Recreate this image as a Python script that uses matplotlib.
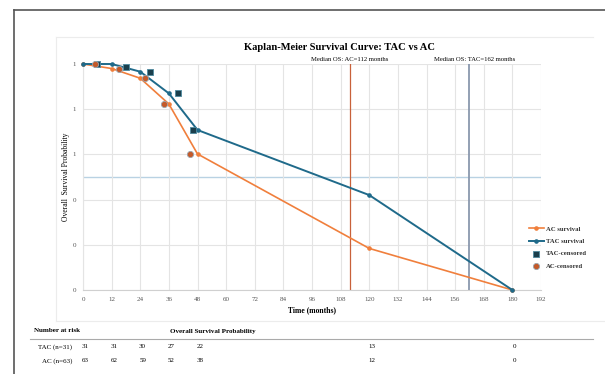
import numpy as np
import matplotlib.pyplot as plt
from matplotlib.lines import Line2D
from matplotlib.transforms import blended_transform_factory

plt.rcParams['font.family'] = ['Liberation Serif', 'DejaVu Serif']

# survival curves (months, probability)
tac_t = [0, 12, 24, 36, 48, 120, 180]
tac_s = [1.0, 1.0, 0.966, 0.87, 0.708, 0.42, 0.0]
ac_t = [0, 12, 24, 36, 48, 120, 180]
ac_s = [1.0, 0.98, 0.937, 0.823, 0.602, 0.184, 0.0]

# censored marks
tac_cens_t = [6, 18, 28, 40, 46]
tac_cens_s = [1.0, 0.985, 0.966, 0.87, 0.708]
ac_cens_t = [5, 15, 26, 34, 45]
ac_cens_s = [1.0, 0.98, 0.937, 0.823, 0.602]

median_ac = 112
median_tac = 162

# number at risk table
risk_t = [0, 12, 24, 36, 48, 120, 180]
risk_tac = [31, 31, 30, 27, 22, 13, 0]
risk_ac = [63, 62, 59, 52, 38, 12, 0]

c_ac = '#F07F3C'
c_tac = '#1F6A8A'

fig = plt.figure(figsize=(6.05, 3.74), dpi=100)
ax = fig.add_axes([83/605, 1-290/374, 458/605, 226/374])

ax.plot(ac_t, ac_s, color=c_ac, lw=1.2, marker='o', ms=2.3, label='AC survival', clip_on=False, zorder=3)
ax.plot(tac_t, tac_s, color=c_tac, lw=1.4, marker='o', ms=2.3, label='TAC survival', clip_on=False, zorder=4)
ax.scatter(tac_cens_t, tac_cens_s, marker='s', s=22, color='#1B3F4C', edgecolors='#4E8AA0',
           linewidths=0.6, label='TAC-censored', clip_on=False, zorder=5)
ax.scatter(ac_cens_t, ac_cens_s, marker='o', s=20, color='#C45A2A', edgecolors='#9AA6B0',
           linewidths=0.6, label='AC-censored', clip_on=False, zorder=5)

ax.axhline(0.5, color='#B9D2E3', lw=1.0, zorder=1)
ax.axvline(median_ac, color='#C8613A', lw=0.9, zorder=2)
ax.axvline(median_tac, color='#8A98AE', lw=1.3, zorder=2)
ax.text(median_ac, 1.01, f'Median OS: AC={median_ac} months', ha='center', va='bottom', fontsize=4.8)
ax.text(median_tac + 2, 1.01, f'Median OS: TAC={median_tac} months', ha='center', va='bottom', fontsize=4.8)

ax.set_xlim(0, 192)
ax.set_ylim(0, 1)
ax.set_xticks(np.arange(0, 193, 12))
ax.set_yticks(np.arange(0, 1.01, 0.2))
ax.set_yticklabels([f'{v:.0f}' for v in np.arange(0, 1.01, 0.2)])
ax.tick_params(labelsize=5, colors='#555555', length=0, pad=5)
ax.grid(color='#E4E4E4', lw=0.8)
for s in ['top', 'right']:
    ax.spines[s].set_visible(False)
ax.spines['left'].set_color('#E4E4E4')
ax.spines['bottom'].set_color('#D0D0D0')
ax.set_xlabel('Time (months)', fontsize=5.5, fontweight='bold', labelpad=3)
ax.set_ylabel('Overall  Survival Probability', fontsize=5.5, labelpad=2)
fig.text(339/605, 1-48/374, 'Kaplan-Meier Survival Curve: TAC vs AC', fontsize=7.6, fontweight='bold',
         ha='center', va='center')

leg = ax.legend(loc='upper left', bbox_to_anchor=(523/605, 1-220/374), bbox_transform=fig.transFigure,
                frameon=False, fontsize=4.8, handlelength=2.2, labelspacing=1.0, handletextpad=0.4)
for t in leg.get_texts():
    t.set_fontweight('bold')
    t.set_color('#333333')

# frames
fig.add_artist(Line2D([14/605, 14/605], [0, 1-10/374], color='#555555', lw=1.2))
fig.add_artist(Line2D([14/605, 1], [1-10/374, 1-10/374], color='#555555', lw=1.2))
fig.add_artist(Line2D([56/605, 56/605], [1-321/374, 1-37/374], color='#ECECEC', lw=0.8))
fig.add_artist(Line2D([56/605, 593/605], [1-37/374, 1-37/374], color='#ECECEC', lw=0.8))
fig.add_artist(Line2D([56/605, 1], [1-321/374, 1-321/374], color='#ECECEC', lw=0.8))

# number at risk table
fig.text(34/605, 1-331/374, 'Number at risk', fontsize=5, fontweight='bold', va='center')
fig.text(170/605, 1-331/374, 'Overall Survival Probability', fontsize=5, fontweight='bold', va='center')
fig.add_artist(Line2D([30/605, 593/605], [1-339/374, 1-339/374], color='#AAAAAA', lw=0.8))
fig.text(72/605, 1-347/374, 'TAC (n=31)', fontsize=5, ha='right', va='center')
fig.text(72/605, 1-361/374, 'AC (n=63)', fontsize=5, ha='right', va='center')
tr = blended_transform_factory(ax.transData, fig.transFigure)
for t, a, b in zip(risk_t, risk_tac, risk_ac):
    ax.text(t + 1, 1-347/374, str(a), transform=tr, fontsize=5, ha='center', va='center', clip_on=False)
    ax.text(t + 1, 1-361/374, str(b), transform=tr, fontsize=5, ha='center', va='center', clip_on=False)

fig.savefig('out.png', dpi=100)
